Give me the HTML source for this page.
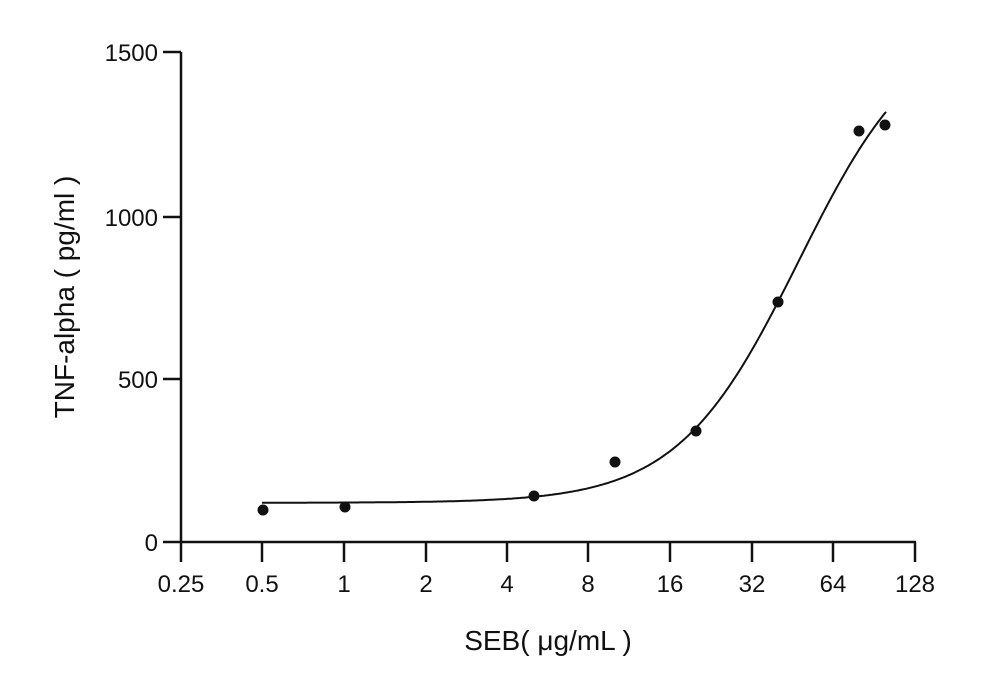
<!DOCTYPE html>
<html><head><meta charset="utf-8"><style>
body{margin:0;background:#fff}
svg{display:block}
text{font-family:"Liberation Sans",sans-serif;fill:#111}
</style></head><body>
<svg width="1000" height="694" viewBox="0 0 1000 694">
<g stroke="#111" stroke-width="2.5" fill="none">
<line x1="181" y1="52" x2="181" y2="543"/>
<line x1="180" y1="542" x2="916" y2="542"/>
<line x1="163" y1="52" x2="181" y2="52"/>
<line x1="163" y1="217" x2="181" y2="217"/>
<line x1="163" y1="379" x2="181" y2="379"/>
<line x1="163" y1="542" x2="181" y2="542"/>
<line x1="181" y1="542" x2="181" y2="562"/>
<line x1="262" y1="542" x2="262" y2="562"/>
<line x1="344" y1="542" x2="344" y2="562"/>
<line x1="426" y1="542" x2="426" y2="562"/>
<line x1="507" y1="542" x2="507" y2="562"/>
<line x1="588" y1="542" x2="588" y2="562"/>
<line x1="670" y1="542" x2="670" y2="562"/>
<line x1="752" y1="542" x2="752" y2="562"/>
<line x1="833" y1="542" x2="833" y2="562"/>
<line x1="915" y1="542" x2="915" y2="562"/>
<path id="curve" stroke-width="2"/>
</g>
<g font-size="24" text-anchor="end">
<text x="158" y="61">1500</text>
<text x="158" y="226">1000</text>
<text x="158" y="388">500</text>
<text x="158" y="551">0</text>
</g>
<g font-size="24" text-anchor="middle">
<text x="181" y="592">0.25</text>
<text x="262" y="592">0.5</text>
<text x="344" y="592">1</text>
<text x="426" y="592">2</text>
<text x="507" y="592">4</text>
<text x="588" y="592">8</text>
<text x="670" y="592">16</text>
<text x="752" y="592">32</text>
<text x="833" y="592">64</text>
<text x="915" y="592">128</text>
</g>
<text x="548" y="650" font-size="28" text-anchor="middle">SEB( μg/mL )</text>
<text transform="translate(74,297) rotate(-90)" font-size="28" text-anchor="middle">TNF-alpha ( pg/ml )</text>
<g fill="#111">
<circle cx="263" cy="510" r="5.5"/>
<circle cx="345" cy="507" r="5.5"/>
<circle cx="534" cy="496" r="5.5"/>
<circle cx="615" cy="462" r="5.5"/>
<circle cx="696" cy="431" r="5.5"/>
<circle cx="778" cy="302" r="5.5"/>
<circle cx="859" cy="131" r="5.5"/>
<circle cx="885" cy="125" r="5.5"/>
</g>
</svg>
<script>
var d="";for(var x=262;x<=886;x+=2){var v=120+1480/(1+Math.exp(-(x-798.7)/60.6));var y=542-v*0.3267;d+=(x==262?"M":"L")+x+" "+y.toFixed(1);}
document.getElementById("curve").setAttribute("d",d);
</script>
</body></html>
